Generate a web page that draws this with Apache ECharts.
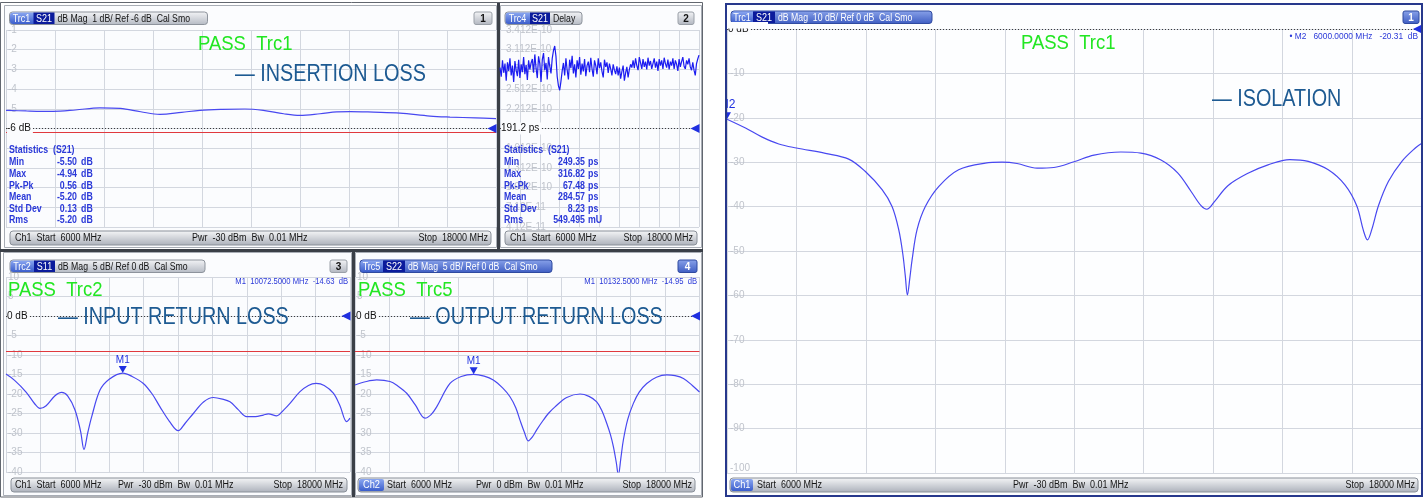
<!DOCTYPE html>
<html><head><meta charset="utf-8">
<script src="https://cdn.jsdelivr.net/npm/echarts@6/dist/echarts.min.js"></script>
<style>html,body{margin:0;padding:0;background:#fff}#c{width:1427px;height:498px}</style>
</head><body><div id="c"></div>
<script>
// ---------------- DATA ----------------
const sweepStart = 6000, sweepStop = 18000;

const ilFreq = [6000,6500,7150,7700,8300,8800,9300,9770,10300,10750,11300,11850,12300,12800,13200,13690,14100,14424,15000,15649,16384,16873,17500,18000];
const ilDb   = [-5.08,-5.11,-5.13,-5.06,-4.95,-4.98,-5.15,-5.28,-5.18,-5.08,-5.03,-5.01,-5.08,-5.25,-5.33,-5.25,-5.16,-5.14,-5.17,-5.22,-5.37,-5.42,-5.46,-5.50];

const delayStart = 6000, delayStep = 75;
const delayPs = [284,270,295,276,290,264,292,279,298,272,287,262,294,280,271,296,268,289,277,300,274,288,265,295,281,291,
297,276,304,283,268,301,290,262,296,306,280,291,266,300,286,275,
298,310,316.8,301,
270,256,249.4,263,279,
291,272,298,280,266,296,283,302,275,289,269,295,282,300,273,290,278,297,271,287,293,277,299,282,270,295,287,274,298,283,292,278,269,296,285,292,276,290,282,272,289,280,274,286,
272,284,267,278,287,264,276,285,269,281,289,284,
295,283,298,287,280,300,291,282,297,285,293,281,299,287,294,282,290,298,284,293,279,297,287,295,282,299,290,284,296,281,293,287,298,282,295,289,279,297,285,293,300,286,282,295,289,298,285,280,292,
280,272,290,297,303];

const s11Freq = [6000,6300,6700,7000,7186,7400,7700,7942,8150,8407,8600,8721,8850,8990,9279,9600,10072.5,10400,10791,11100,11372,11700,12011,12250,12535,12900,13233,13550,13814,14100,14395,14700,14977,15150,15442,15700,15907,16256,16550,16814,17100,17419,17650,17884,18000];
const s11Db   = [-14.9,-16.5,-19.5,-22.5,-23.7,-23.0,-20.5,-19.6,-20.5,-24.1,-29.5,-34.2,-30.0,-25.8,-19.0,-16.2,-14.63,-15.5,-17.3,-20.0,-23.3,-27.0,-29.4,-27.5,-25.0,-22.0,-20.9,-21.3,-22.0,-24.0,-25.8,-25.8,-25.4,-25.1,-25.6,-24.0,-22.4,-19.4,-17.8,-17.3,-17.8,-19.8,-23.0,-27.1,-26.2];

const s22Freq = [6000,6400,6756,7219,7500,7801,8100,8438,8650,8845,9309,9700,10132.5,10500,10817,11150,11399,11600,11747,11900,12037,12180,12329,12550,12735,12967,13375,13838,14150,14420,14600,14768,14900,15000,15100,15174,15260,15348,15500,15697,15900,16163,16500,16859,17150,17440,17750,18000];
const s22Db   = [-17.7,-16.8,-16.4,-16.8,-18.0,-19.8,-22.8,-26.2,-25.3,-23.3,-17.3,-15.5,-14.95,-15.4,-16.4,-18.5,-20.7,-23.5,-26.7,-29.8,-32.0,-31.0,-29.2,-26.8,-25.0,-23.3,-20.9,-20.0,-20.6,-22.0,-24.3,-27.5,-30.5,-33.5,-37.5,-40.8,-36.5,-31.8,-26.5,-22.4,-19.5,-17.3,-15.7,-15.1,-15.3,-16.0,-17.8,-19.5];

const isoFreq = [6000,6320,6600,6895,7200,7700,8103,8391,8680,8852,8967,9036,9080,9117,9160,9198,9284,9427,9657,10002,10463,10752,11011,11358,11648,11995,12342,12805,13152,13499,13787,14019,14191,14290,14423,14654,15001,15348,15724,16042,16389,16677,16881,16997,17066,17140,17256,17430,17661,17893,18000];
const isoDb   = [-20.31,-22.3,-24.3,-25.9,-26.8,-28.0,-29.3,-32.1,-36.2,-40.0,-45.2,-50.5,-55.5,-59.9,-56.0,-52.0,-45.2,-40.0,-35.5,-31.7,-30.2,-30.0,-30.3,-31.35,-31.2,-29.9,-28.4,-27.7,-27.95,-29.5,-32.4,-36.6,-39.8,-40.6,-38.9,-35.3,-32.5,-30.6,-29.4,-29.8,-31.7,-35.1,-39.8,-45.4,-47.5,-45.2,-39.8,-34.3,-29.8,-26.8,-25.8];

const delayTickLabels = ['4.12E-11','7.12E-11','1.012E-10','1.312E-10','1.612E-10','191.2 ps','2.212E-10','2.512E-10','2.812E-10','3.112E-10','3.412E-10'];

const ilStats    = [['Min','-5.50','dB'],['Max','-4.94','dB'],['Pk-Pk','0.56','dB'],['Mean','-5.20','dB'],['Std Dev','0.13','dB'],['Rms','-5.20','dB']];
const delayStats = [['Min','249.35','ps'],['Max','316.82','ps'],['Pk-Pk','67.48','ps'],['Mean','284.57','ps'],['Std Dev','8.23','ps'],['Rms','549.495','mU']];

const m1In  = [10072.5, -14.63];
const m1Out = [10132.5, -14.95];
const m2Iso = [6000, -20.31];

// ---------------- STYLE HELPERS ----------------
const FONT = '"Liberation Sans", Arial, sans-serif';
const GRID_C = '#d3d7df', LBL_C = '#bfc3cb', TRACE_C = '#4848f0', MK_C = '#1f2fe0';
const STAT_C = '#2a38d8', TITLE_C = '#1d5a92', PASS_C = '#22e622';

function pair(f, v){ return f.map((x,i)=>[x, v[i]]); }
function grad(c0,c1){ return new echarts.graphic.LinearGradient(0,0,0,1,[{offset:0,color:c0},{offset:1,color:c1}]); }

const G = [];
function R(x,y,w,h,fill,stroke,o){ o=o||{}; G.push({type:'rect',silent:true,z:(o.z!=null?o.z:-1),shape:{x:x,y:y,width:w,height:h,r:o.r||0},style:{fill:fill||'none',stroke:stroke||'none',lineWidth:o.lw||1}}); }
function T(x,y,s,o){ o=o||{}; G.push({type:'text',silent:true,z:(o.z||100),x:x,y:y,scaleX:(o.sx||1),style:{text:s,fill:o.c||'#151515',font:(o.w||'normal')+' '+(o.fs||10)+'px '+FONT,textAlign:o.a||'left',textVerticalAlign:'middle',align:o.a||'left',verticalAlign:'middle'}}); }

function header(x,y,trc,sp,rest,wT,wS,wR,active){
  const h=12.5, tot=wT+wS+wR;
  R(x,y,tot,h, active?grad('#8aa3ea','#3d5cc2'):grad('#f4f5f7','#b4b9c3'), active?'#2f4aa0':'#8d939c',{r:3,z:20});
  R(x+0.5,y+0.5,wT,h-1, grad('#8aa6f0','#3a5dcc'), null, {r:[3,0,0,3], z:21});
  R(x+wT,y+0.5,wS,h-1,'#0b1b9c',null,{z:21});
  T(x+wT/2, y+h/2+0.5, trc, {c:'#fff', a:'center', z:22, sx:0.9});
  T(x+wT+wS/2, y+h/2+0.5, sp, {c:'#fff', a:'center', z:22, sx:0.9});
  T(x+wT+wS+3, y+h/2+0.5, rest, {c: active?'#ffffff':'#151515', z:22, sx:0.87});
}
function numBox(x,y,w,label,active){
  R(x,y,w,12.5, active?grad('#8aa3ea','#3d5cc2'):grad('#f4f5f7','#b0b5bf'), active?'#2f4aa0':'#9aa0a8',{r:2,z:20});
  T(x+w/2,y+7,label,{c:active?'#fff':'#111',a:'center',z:22,w:'bold'});
}
function footer(x,y,w,items,ch){
  R(x,y,w,14,grad('#f6f7f8','#abb0ba'),'#8a9099',{r:3,z:20});
  if(ch){ R(x+1,y+1,ch.w,12,grad('#8aa6f0','#3a5dcc'),null,{r:2,z:21}); T(x+1+ch.w/2,y+7.5,ch.t,{c:'#fff',a:'center',z:22,sx:0.92}); }
  items.forEach(it=>T(it.x,y+7.5,it.t,{a:it.a||'left',z:22,sx:0.9}));
}
function stats(x, vx, ux, title, rows){
  T(x,150,title,{c:STAT_C,w:'bold',sx:0.88});
  const ys=[162,174,186,197,209,220];
  rows.forEach((r,i)=>{ T(x,ys[i],r[0],{c:STAT_C,w:'bold',sx:0.88}); T(vx,ys[i],r[1],{c:STAT_C,w:'bold',sx:0.88,a:'right'}); T(ux,ys[i],r[2],{c:STAT_C,w:'bold',sx:0.88}); });
}

// ---------------- FRAMES ----------------
R(0.5,2.5,702,494.5,'#ffffff','#62676f');
R(4.5,5.5,492,242,'#fbfcfe','#a8adb5');
R(497,3,3,247,'#3a3f47',null);
R(500.5,5.5,201,242,'#fbfcfe','#a8adb5');
R(0,249,703,3,'#3a3f47',null);
R(3.5,252.5,348,243,'#fbfcfe','#a8adb5');
R(352,252,3,245,'#3a3f47',null);
R(355.5,252.5,346,243,'#fbfcfe','#a8adb5');
R(726,4,696,492,'#fdfeff','#27388c',{lw:2});

// covers / right-panel clip
R(703.5,85,21.5,45,'#ffffff',null,{z:50});
R(728,22,40,6.5,'#fdfeff',null,{z:50});
R(726,4,696,492,null,'#27388c',{lw:2,z:60});

// headers
header(9.5,12,'Trc1','S21','dB Mag  1 dB/ Ref -6 dB  Cal Smo',24,21,153,false);
numBox(474,12,18,'1',false);
header(505,12,'Trc4','S21','Delay',25,20,32,false);
numBox(678,12,16,'2',false);
header(10,260,'Trc2','S11','dB Mag  5 dB/ Ref 0 dB  Cal Smo',24,21,150,false);
numBox(330,260,17,'3',false);
header(360,260,'Trc5','S22','dB Mag  5 dB/ Ref 0 dB  Cal Smo',23,22,147,true);
numBox(678,260,19,'4',true);
header(731,11,'Trc1','S21','dB Mag  10 dB/ Ref 0 dB  Cal Smo',22,22,157,true);
numBox(1403,11,16,'1',true);

// footers
footer(10,231,481,[{t:'Ch1  Start  6000 MHz',x:15},{t:'Pwr  -30 dBm  Bw  0.01 MHz',x:192},{t:'Stop  18000 MHz',x:488,a:'right'}]);
footer(505,231,192,[{t:'Ch1  Start  6000 MHz',x:510},{t:'Stop  18000 MHz',x:693,a:'right'}]);
footer(11,478,336,[{t:'Ch1  Start  6000 MHz',x:15},{t:'Pwr  -30 dBm  Bw  0.01 MHz',x:118},{t:'Stop  18000 MHz',x:343,a:'right'}]);
footer(358,478,337,[{t:'Start  6000 MHz',x:387},{t:'Pwr  0 dBm  Bw  0.01 MHz',x:476},{t:'Stop  18000 MHz',x:692,a:'right'}],{t:'Ch2',w:25});
footer(730,478,688,[{t:'Start  6000 MHz',x:757},{t:'Pwr  -30 dBm  Bw  0.01 MHz',x:1013},{t:'Stop  18000 MHz',x:1415,a:'right'}],{t:'Ch1',w:22});

// titles
T(198,44,'PASS  Trc1',{c:PASS_C,fs:21,sx:0.88});
T(235,75,'— INSERTION LOSS',{c:TITLE_C,fs:23,sx:0.86});
T(8,290,'PASS  Trc2',{c:PASS_C,fs:21,sx:0.88});
T(58,318,'— INPUT RETURN LOSS',{c:TITLE_C,fs:23,sx:0.86});
T(358,290,'PASS  Trc5',{c:PASS_C,fs:21,sx:0.88});
T(410,318,'— OUTPUT RETURN LOSS',{c:TITLE_C,fs:23,sx:0.86});
T(1021,43,'PASS  Trc1',{c:PASS_C,fs:21,sx:0.88});
T(1212,100,'— ISOLATION',{c:TITLE_C,fs:23,sx:0.86});

// marker info
T(348,282,'M1  10072.5000 MHz  -14.63  dB',{c:STAT_C,fs:9,sx:0.85,a:'right'});
T(697,282,'M1  10132.5000 MHz  -14.95  dB',{c:STAT_C,fs:9,sx:0.85,a:'right'});
T(1418,36,'• M2   6000.0000 MHz   -20.31  dB',{c:STAT_C,fs:9.5,sx:0.88,a:'right'});

// statistics
stats(9,77,81,'Statistics  (S21)',ilStats);
stats(504,585,588,'Statistics  (S21)',delayStats);

// ---------------- AXES ----------------
function xA(gi){ return {type:'value',gridIndex:gi,min:sweepStart,max:sweepStop,interval:1200,axisLine:{show:false},axisTick:{show:false},axisLabel:{show:false},splitLine:{show:true,lineStyle:{color:GRID_C,width:1}}}; }
function yLines(gi,min,max,iv,fmt,margin,extra){ return Object.assign({type:'value',gridIndex:gi,position:'left',min:min,max:max,interval:iv,axisLine:{show:false},axisTick:{show:false},
  splitLine:{show:true,lineStyle:{color:GRID_C,width:1}},
  axisLabel:{inside:true,margin:margin,color:LBL_C,fontSize:10,fontFamily:FONT,formatter:fmt}}, extra||{}); }
function yRef(gi,min,max,iv,refVal,txt,margin){ return {type:'value',gridIndex:gi,position:'left',min:min,max:max,interval:iv,z:5,axisLine:{show:false},axisTick:{show:false},splitLine:{show:false},
  axisLabel:{inside:true,margin:margin,fontSize:10,fontFamily:FONT,formatter:function(v){return Math.abs(v-refVal)<1e-6?'{r|'+txt+'}':'';},
  rich:{r:{color:'#111',backgroundColor:'#fbfcfe',padding:[1,2,1,0],fontSize:10,fontFamily:FONT}}}}; }

const yAxes = [
  yLines(0,-11,-1,1,function(v){return v>-6?String(v):'';},2),
  yRef(0,-11,-1,1,-6,'-6 dB',1),
  yLines(1,0,10,1,function(v){const i=Math.round(v);return i===5?'':delayTickLabels[i];},6),
  yRef(1,0,10,1,5,delayTickLabels[5],1),
  {type:'value',gridIndex:1,position:'left',min:41.2,max:341.2,show:false,splitLine:{show:false}},
  yLines(2,-40,10,5,function(v){return v===0?'':String(v);},2),
  yRef(2,-40,10,5,0,'0 dB',1),
  yLines(3,-40,10,5,function(v){return v===0?'':String(v);},2),
  yRef(3,-40,10,5,0,'0 dB',1),
  yLines(4,-100,0,10,function(v){return v===0?'':String(v);},3,{}),
  yRef(4,-100,0,10,0,'0 dB',1)
];
yAxes[9].axisLabel.verticalAlignMinLabel = 'bottom';

// ---------------- SERIES HELPERS ----------------
function refLine(v){ return {yAxis:v,lineStyle:{color:'#3c3c3c',type:[1,2],width:1}}; }
function limLine(v){ return {yAxis:v,lineStyle:{color:'#e0393e',type:'solid',width:1}}; }
function refTri(f,v){ return {coord:[f,v],symbol:'triangle',symbolSize:[9,9],symbolRotate:90,symbolOffset:[-4,0],itemStyle:{color:MK_C},label:{show:false}}; }
function mk(name,c,fs){ return {coord:c,symbol:'triangle',symbolSize:[8,7],symbolRotate:180,symbolOffset:[0,-3.5],itemStyle:{color:MK_C},
  label:{show:true,formatter:name,position:'top',distance:1,color:MK_C,fontSize:fs||10,fontFamily:FONT}}; }
function ml(arr){ return {silent:true,symbol:'none',label:{show:false},animation:false,data:arr}; }
function mp(arr){ return {silent:true,animation:false,data:arr}; }
function trace(xi,yi,data,extra){ return Object.assign({type:'line',xAxisIndex:xi,yAxisIndex:yi,data:data,showSymbol:false,symbol:'none',smooth:0.35,
  lineStyle:{color:TRACE_C,width:1.2},itemStyle:{color:TRACE_C},animation:false,clip:true}, extra||{}); }

const delayData = delayPs.map((v,i)=>[delayStart+i*delayStep, v]);

const option = {
  backgroundColor:'#ffffff',
  animation:false,
  grid:[
    {left:6,top:30,width:490,height:197},
    {left:500,top:30,width:199,height:197},
    {left:6,top:277,width:344,height:195},
    {left:355,top:277,width:344.5,height:195},
    {left:727,top:29,width:694.5,height:444}
  ],
  xAxis:[xA(0),xA(1),xA(2),xA(3),xA(4)],
  yAxis:yAxes,
  series:[
    trace(0,0,pair(ilFreq,ilDb),{markLine:ml([refLine(-6),limLine(-6.2)]),markPoint:mp([refTri(sweepStop,-6)])}),
    trace(1,4,delayData,{smooth:false,lineStyle:{color:'#1c1cf0',width:1.2},markLine:ml([refLine(191.2)]),markPoint:mp([refTri(sweepStop,191.2)])}),
    trace(2,5,pair(s11Freq,s11Db),{markLine:ml([refLine(0),limLine(-9)]),markPoint:mp([refTri(sweepStop,0),mk('M1',m1In)])}),
    trace(3,7,pair(s22Freq,s22Db),{markLine:ml([refLine(0),limLine(-9)]),markPoint:mp([refTri(sweepStop,0),mk('M1',m1Out)])}),
    trace(4,9,pair(isoFreq,isoDb),{markLine:ml([refLine(0)]),markPoint:mp([refTri(sweepStop,0),mk('M2',m2Iso,12)])})
  ],
  graphic:{elements:G}
};

const chart = echarts.init(document.getElementById('c'), null, {renderer:'canvas', width:1427, height:498});
chart.setOption(option);
</script>
</body></html>
